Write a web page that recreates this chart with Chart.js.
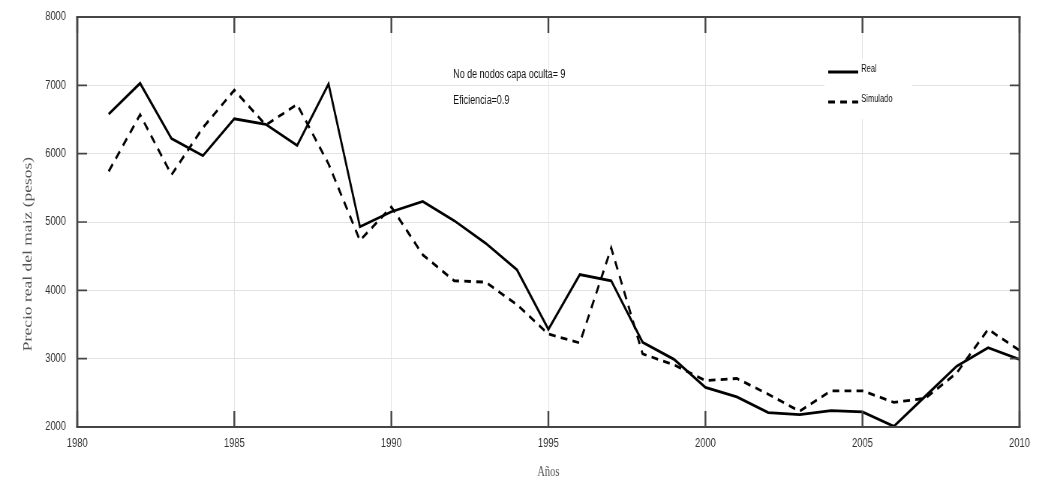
<!DOCTYPE html>
<html>
<head>
<meta charset="utf-8">
<script src="https://cdn.jsdelivr.net/npm/chart.js@4.4.0/dist/chart.umd.min.js"></script>
<style>
	html, body { margin: 0; padding: 0; background: #fff; overflow: hidden; }
	.chart-frame { width: 1048px; height: 482px; overflow: hidden; position: relative; }
	/* the original figure is squeezed horizontally, so draw wide and squeeze */
	#chart { position: absolute; left: 0; top: 0; width: 1397px; height: 482px;
		transform: scaleX(0.75018); transform-origin: 0 0; }
</style>
</head>
<body>
<div class="chart-frame"><canvas id="chart" width="1397" height="482"></canvas></div>
<script>
'use strict'

const years = [1981, 1982, 1983, 1984, 1985, 1986, 1987, 1988, 1989, 1990,
	1991, 1992, 1993, 1994, 1995, 1996, 1997, 1998, 1999, 2000,
	2001, 2002, 2003, 2004, 2005, 2006, 2007, 2008, 2009, 2010]
const realValues = [6580, 7030, 6220, 5970, 6510, 6430, 6120, 7020, 4930, 5150,
	5300, 5020, 4690, 4300, 3430, 4230, 4140, 3240, 2990, 2580,
	2440, 2210, 2180, 2240, 2220, 2010, 2450, 2890, 3160, 2990]
const simValues = [5740, 6570, 5690, 6380, 6930, 6420, 6720, 5850, 4730, 5220,
	4520, 4140, 4120, 3790, 3360, 3230, 4620, 3070, 2910, 2680,
	2710, 2480, 2230, 2530, 2530, 2360, 2420, 2790, 3430, 3120]
const seriesLabels = ['Real', 'Simulado']
const xTicks = [1980, 1985, 1990, 1995, 2000, 2005, 2010]
const yTicks = [2000, 3000, 4000, 5000, 6000, 7000, 8000]
const noteLines = ['No de nodos capa oculta= 9', 'Eficiencia=0.9']
const xTitle = 'Años'
const yTitle = 'Precio real del maiz (pesos)'

const SANS = "'Liberation Sans', Arial, sans-serif"
const SERIF = "'Liberation Serif', 'Times New Roman', serif"

function toPoints(values) {
	return years.map((year, i) => ({ x: year, y: values[i] }))
}

// box with inward ticks, y title, note text and legend
const framePlugin = {
	id: 'frame',
	afterDraw(chart) {
		const { ctx, chartArea: a } = chart
		const xs = chart.scales.x
		const ys = chart.scales.y
		ctx.save()
		ctx.strokeStyle = '#454545'

		// vertical strokes get thinner after the squeeze, so draw them wider
		ctx.lineWidth = 2.4
		ctx.beginPath()
		xTicks.forEach(v => {
			const px = xs.getPixelForValue(v)
			ctx.moveTo(px, a.bottom)
			ctx.lineTo(px, a.bottom - 16)
			ctx.moveTo(px, a.top)
			ctx.lineTo(px, a.top + 16)
		})
		ctx.stroke()
		ctx.lineWidth = 1.6
		ctx.beginPath()
		yTicks.forEach(v => {
			const py = ys.getPixelForValue(v)
			ctx.moveTo(a.left, py)
			ctx.lineTo(a.left + 13, py)
			ctx.moveTo(a.right, py)
			ctx.lineTo(a.right - 13, py)
		})
		ctx.stroke()

		ctx.lineWidth = 2
		ctx.beginPath()
		ctx.moveTo(a.left - 1.5, a.top)
		ctx.lineTo(a.right + 1.5, a.top)
		ctx.moveTo(a.left - 1.5, a.bottom)
		ctx.lineTo(a.right + 1.5, a.bottom)
		ctx.stroke()
		ctx.lineWidth = 2.7
		ctx.beginPath()
		ctx.moveTo(a.left, a.top)
		ctx.lineTo(a.left, a.bottom)
		ctx.moveTo(a.right, a.top)
		ctx.lineTo(a.right, a.bottom)
		ctx.stroke()

		// y axis title, sits a bit below the middle of the axis
		ctx.save()
		ctx.translate(37, 254)
		ctx.rotate(-Math.PI / 2)
		ctx.fillStyle = '#555'
		ctx.font = '17.5px ' + SERIF
		ctx.textAlign = 'center'
		ctx.textBaseline = 'middle'
		ctx.fillText(yTitle, 0, 0)
		ctx.restore()

		ctx.fillStyle = '#111'
		ctx.font = '12px ' + SANS
		ctx.textBaseline = 'middle'
		ctx.textAlign = 'left'
		ctx.fillText(noteLines[0], a.left + 501, a.top + 58)
		ctx.fillText(noteLines[1], a.left + 501, a.top + 84)

		const x0 = a.right - 255
		ctx.fillStyle = '#fff'
		ctx.fillRect(x0 - 5, a.top + 42, 117, 60)
		chart.data.datasets.forEach((ds, i) => {
			const ly = a.top + 55 + i * 30
			ctx.strokeStyle = ds.borderColor
			ctx.lineWidth = ds.borderWidth
			ctx.setLineDash(ds.borderDash || [])
			ctx.beginPath()
			ctx.moveTo(x0, ly)
			ctx.lineTo(x0 + 40, ly)
			ctx.stroke()
			ctx.setLineDash([])
			ctx.fillStyle = '#111'
			ctx.font = '10px ' + SANS
			ctx.textBaseline = 'middle'
			ctx.textAlign = 'left'
			ctx.fillText(ds.label, x0 + 44, ly - 3)
		})
		ctx.restore()
	},
}

const ctx = document.getElementById('chart')

new Chart(ctx, {
	type: 'line',
	data: {
		datasets: [
			{
				label: seriesLabels[0],
				data: toPoints(realValues),
				borderColor: '#000',
				borderWidth: 2.8,
				pointRadius: 0,
				tension: 0,
			},
			{
				label: seriesLabels[1],
				data: toPoints(simValues),
				borderColor: '#000',
				borderWidth: 2.8,
				borderDash: [9, 7],
				pointRadius: 0,
				tension: 0,
			},
		],
	},
	options: {
		responsive: false,
		devicePixelRatio: 1,
		animation: false,
		layout: { padding: { top: 17, right: 38, left: 0, bottom: 0 } },
		plugins: {
			legend: { display: false },
			tooltip: { enabled: false },
		},
		scales: {
			x: {
				type: 'linear',
				min: xTicks[0],
				max: xTicks[xTicks.length - 1],
				afterBuildTicks: scale => {
					scale.ticks = xTicks.map(value => ({ value }))
				},
				afterFit: scale => {
					scale.height = 55
				},
				ticks: {
					callback: v => String(v),
					font: { family: SANS, size: 12.5 },
					color: '#333',
					padding: 9,
					maxRotation: 0,
					autoSkip: false,
				},
				grid: { color: '#e2e2e2', drawTicks: false },
				border: { display: false },
				title: {
					display: true,
					text: xTitle,
					font: { family: SERIF, size: 14 },
					color: '#555',
					padding: { top: 0, bottom: 1 },
				},
			},
			y: {
				min: yTicks[0],
				max: yTicks[yTicks.length - 1],
				afterBuildTicks: scale => {
					scale.ticks = yTicks.map(value => ({ value }))
				},
				afterFit: scale => {
					scale.width = 103
					scale.paddingTop = 0
					scale.paddingBottom = 0
				},
				ticks: {
					callback: v => String(v),
					font: { family: SANS, size: 12.5 },
					color: '#333',
					padding: 15,
				},
				grid: { color: '#e2e2e2', drawTicks: false },
				border: { display: false },
			},
		},
	},
	plugins: [framePlugin],
})
</script>
</body>
</html>
